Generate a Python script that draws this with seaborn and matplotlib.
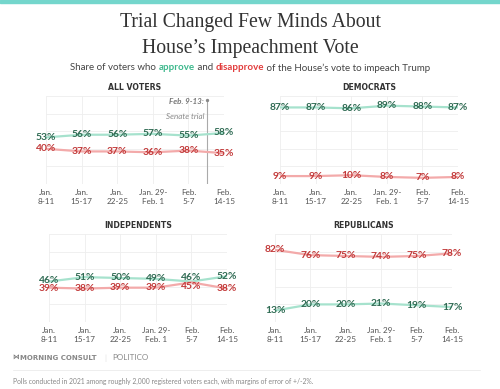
import numpy as np
import pandas as pd
import matplotlib
matplotlib.use("Agg")
import matplotlib.pyplot as plt
from matplotlib.patches import Rectangle
from matplotlib.lines import Line2D
import seaborn as sns

## data
periods = ["Jan.\n8-11", "Jan.\n15-17", "Jan.\n22-25", "Jan. 29-\nFeb. 1", "Feb.\n5-7", "Feb.\n14-15"]
all_approve = [53, 56, 56, 57, 55, 58]
all_disapprove = [40, 37, 37, 36, 38, 35]
dem_approve = [87, 87, 86, 89, 88, 87]
dem_disapprove = [9, 9, 10, 8, 7, 8]
ind_approve = [46, 51, 50, 49, 46, 52]
ind_disapprove = [39, 38, 39, 39, 45, 38]
rep_approve = [13, 20, 20, 21, 19, 17]
rep_disapprove = [82, 76, 75, 74, 75, 78]
trial_pos = 4.52  # Feb. 9-13 sits between Feb. 5-7 and Feb. 14-15

## colours
line_green, txt_green = "#a6e2cd", "#2f6b53"
line_red, txt_red = "#f3aaaa", "#c23a3a"
sub_green, sub_red = "#3cb88c", "#e23c3c"

sns.set_theme(style="white")
plt.rcParams['font.family'] = ['Lato', 'DejaVu Sans']

W, H = 500, 389
fig = plt.figure(figsize=(5, 3.89), dpi=100)

def fy(px):
    return 1 - px / H

# teal bar on top
fig.patches.append(Rectangle((0, fy(3)), 1, 3 / H, transform=fig.transFigure,
                             color="#74d6cc", zorder=0))

# title
for txt, ypx in [("Trial Changed Few Minds About", 23), ("House\u2019s Impeachment Vote", 48)]:
    fig.text(0.5, fy(ypx), txt, ha="center", va="center", family="Liberation Serif",
             fontsize=14.2, color="#333333")

# subtitle with coloured words
pieces = [("Share of voters who ", "#444444", "normal"), ("approve", sub_green, "bold"),
          (" and ", "#444444", "normal"), ("disapprove", sub_red, "bold"),
          (" of the House\u2019s vote to impeach Trump", "#444444", "normal")]
renderer = fig.canvas.get_renderer()
texts = []
for s, c, w in pieces:
    t = fig.text(0, fy(68), s, ha="left", va="center", color=c, fontweight=w, fontsize=7.0)
    texts.append(t)
widths = [t.get_window_extent(renderer).width / W for t in texts]
x = 0.5 - sum(widths) / 2
for t, w in zip(texts, widths):
    t.set_x(x)
    x += w

## panels: title, approve, disapprove, (left, top, right, bottom) in px, trial marker
panels = [
    ("ALL VOTERS", all_approve, all_disapprove, (46, 96, 224, 184), True),
    ("DEMOCRATS", dem_approve, dem_disapprove, (280, 96, 458, 184), False),
    ("INDEPENDENTS", ind_approve, ind_disapprove, (49, 234, 227, 322), False),
    ("REPUBLICANS", rep_approve, rep_disapprove, (275, 234, 452, 322), False),
]

n = len(periods)
for title, approve, disapprove, (l, t, r, b), trial in panels:
    ax = fig.add_axes([l / W, fy(b), (r - l) / W, (b - t) / H])
    df = pd.DataFrame({"x": list(range(n)) * 2,
                       "value": approve + disapprove,
                       "response": ["approve"] * n + ["disapprove"] * n})
    sns.lineplot(data=df, x="x", y="value", hue="response",
                 palette={"approve": line_green, "disapprove": line_red},
                 linewidth=1.6, legend=False, ax=ax)
    px_per_unit = (b - t) / 100
    for i in range(n):
        a, d = approve[i], disapprove[i]
        oa = od = 0
        sep = abs(a - d) * px_per_unit
        if sep < 8.5:
            shift = (8.5 - sep) / 2 / 1.389  # in points
            oa, od = (shift, -shift) if a >= d else (-shift, shift)
        ax.annotate(f"{a}%", (i, a), xytext=(0, oa), textcoords="offset points",
                    ha="center", va="center", color=txt_green, fontsize=7.4,
                    fontweight="bold", annotation_clip=False, zorder=5)
        ax.annotate(f"{d}%", (i, d), xytext=(0, od), textcoords="offset points",
                    ha="center", va="center", color=txt_red, fontsize=7.4,
                    fontweight="bold", annotation_clip=False, zorder=5)
    ax.set_xlim(0, n - 1)
    ax.set_ylim(0, 100)
    ax.set_xticks(range(n))
    ax.set_xticklabels(periods, fontsize=5.9, color="#555555", linespacing=1.4)
    ax.set_yticks(range(0, 101, 20))
    ax.set_yticklabels([])
    ax.tick_params(length=0, pad=3.5)
    ax.set_xlabel("")
    ax.set_ylabel("")
    ax.grid(True, color="#eeeeee", linewidth=0.6)
    for sp in ax.spines.values():
        sp.set_visible(False)
    ax.set_axisbelow(True)
    fig.text((l + r) / 2 / W, fy(t - 9), title, ha="center", va="center",
             family="DejaVu Sans", fontweight="bold", fontsize=5.6, color="#333333")
    if trial:
        ytop = 96
        ax.plot([trial_pos, trial_pos], [0, ytop], color="#aaaaaa", lw=0.8, zorder=1)
        ax.plot([trial_pos], [ytop], marker="o", ms=1.4, color="#888888", zorder=2)
        ax.annotate("Feb. 9-13:", (trial_pos, ytop), xytext=(-2, -1.5), textcoords="offset points",
                    ha="right", va="center", style="italic", fontweight="bold",
                    color="#777777", fontsize=5.8, annotation_clip=False)
        ax.annotate("Senate trial", (trial_pos, ytop), xytext=(-2, -12), textcoords="offset points",
                    ha="right", va="center", style="italic", color="#888888",
                    fontsize=5.8, annotation_clip=False)

## footer
fig.text(12 / W, fy(358), "\u22c8", ha="left", va="center", family="DejaVu Sans",
         fontsize=4.8, color="#777777", fontweight="bold")
fig.text(20 / W, fy(358), "MORNING CONSULT", ha="left", va="center", family="DejaVu Sans",
         fontsize=5.0, color="#888888", fontweight="bold")
fig.text(105 / W, fy(358), "|", ha="center", va="center", fontsize=5.5, color="#dddddd")
fig.text(112 / W, fy(358), "POLITICO", ha="left", va="center", fontsize=5.8, color="#888888")
fig.add_artist(Line2D([13 / W, 480 / W], [fy(370), fy(370)], color="#eeeeee", lw=0.7,
                      transform=fig.transFigure))
fig.text(13 / W, fy(381), "Polls conducted in 2021 among roughly 2,000 registered voters each, "
         "with margins of error of +/-2%.", ha="left", va="center", fontsize=4.85, color="#888888")

fig.savefig("out.png", dpi=100)
